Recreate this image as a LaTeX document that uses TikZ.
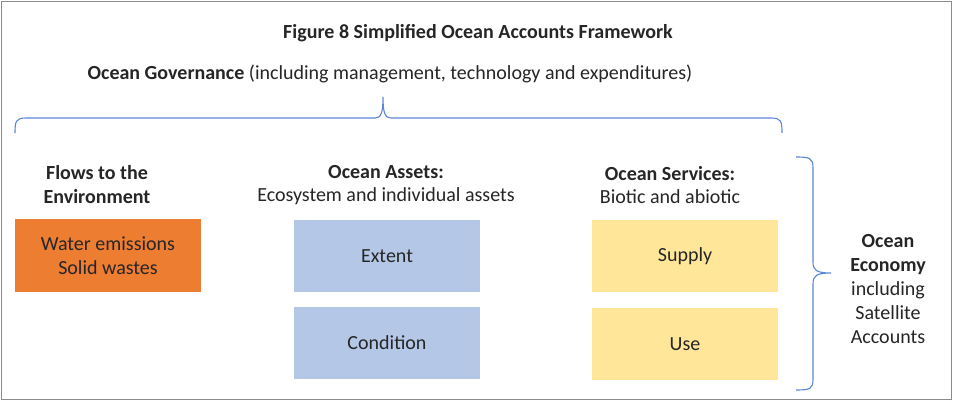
\documentclass[tikz,border=0pt]{standalone}
\usepackage{fontspec}
\setmainfont{Carlito}
\definecolor{framegray}{HTML}{8C8C8C}
\definecolor{bracecol}{HTML}{5B86D6}
\definecolor{orangebox}{HTML}{ED7D31}
\definecolor{bluebox}{HTML}{B4C7E7}
\definecolor{yellowbox}{HTML}{FFE699}
\definecolor{txt}{HTML}{262626}
\begin{document}
\begin{tikzpicture}[x=1pt,y=-1pt,
  every node/.style={inner sep=0pt,outer sep=0pt,font=\fontsize{20}{23.5}\selectfont,text=txt},
  boxnode/.style={minimum width=186pt,minimum height=72pt,align=center},
  headnode/.style={align=center},
  bracestyle/.style={draw=bracecol,line width=1.1pt}]
\useasboundingbox (0,0) rectangle (960,406);
\fill[white] (0,0) rectangle (960,406);
\draw[framegray,line width=1.6pt] (1.5,1.5) rectangle (951.5,399.5);
% title
\node (title) at (478,33) {\bfseries Figure 8 Simplified Ocean Accounts Framework};
\node (gov) at (390,74) {\bfseries Ocean Governance\mdseries{} (including management, technology and expenditures)};
% top brace
\draw[bracestyle] (15,133) .. controls (15,121) and (16,118) .. (26,118) -- (375,118) .. controls (381,118) and (383,113) .. (383,97) .. controls (383,113) and (385,118) .. (391,118) -- (771,118) .. controls (781,118) and (782,121) .. (782,133);
% headers
\node[headnode] (flowh) at (97,184.5) {\bfseries Flows to the\\\bfseries Environment};
\node[headnode] (assetsh) at (386,185) {\bfseries Ocean Assets:\\Ecosystem and individual assets};
\node[headnode] (servh) at (670,185) {\bfseries Ocean Services:\\Biotic and abiotic};
% boxes
\node[boxnode,fill=orangebox,minimum height=73pt] (flows) at (108,255.5) {Water emissions\\Solid wastes};
\node[boxnode,fill=bluebox] (extent) at (387,256) {Extent};
\node[boxnode,fill=bluebox] (cond) at (387,343) {Condition};
\node[boxnode,fill=yellowbox] (supply) at (685,256) {Supply};
\node[boxnode,fill=yellowbox] (use) at (685,344) {Use};
% right brace
\draw[bracestyle] (796,157) .. controls (810,157) and (813,158) .. (813,168) -- (813,262) .. controls (813,270) and (816,273) .. (831,273) .. controls (816,273) and (813,276) .. (813,284) -- (813,379) .. controls (813,389) and (810,390) .. (796,390);
\node[headnode,font=\fontsize{20}{24}\selectfont] (econ) at (888,289) {\bfseries Ocean\\\bfseries Economy\\including\\Satellite\\Accounts};
\end{tikzpicture}
\end{document}
